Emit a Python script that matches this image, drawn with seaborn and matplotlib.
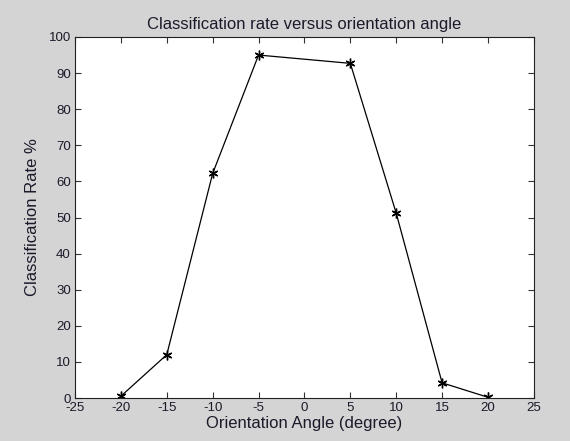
import matplotlib
matplotlib.use("Agg")
import matplotlib.pyplot as plt
import seaborn as sns
import pandas as pd

angles = [-20, -15, -10, -5, 5, 10, 15, 20]
rates = [0.5, 12, 62.2, 95, 92.7, 51.2, 4.2, 0.2]
xticks = [-25, -20, -15, -10, -5, 0, 5, 10, 15, 20, 25]
yticks = [0, 10, 20, 30, 40, 50, 60, 70, 80, 90, 100]

sns.set_style("white")
plt.rcParams['font.family'] = ['Liberation Sans', 'DejaVu Sans']

df = pd.DataFrame({"angle": angles, "rate": rates})

fig = plt.figure(figsize=(5.7, 4.41), dpi=100, facecolor='#d4d4d4')
ax = fig.add_axes([0.1316, 0.0975, 0.805, 0.8186])
ax.set_facecolor('white')
sns.lineplot(data=df, x="angle", y="rate", ax=ax, color='black', linewidth=0.9,
             marker=(6, 2, 0), markersize=7, markeredgecolor='black', markeredgewidth=1.0)

ax.set_xlim(-25, 25)
ax.set_ylim(0, 100)
ax.set_xticks(xticks)
ax.set_xticklabels([str(t) for t in xticks])
ax.set_yticks(yticks)
ax.set_yticklabels([str(t) for t in yticks])
ax.tick_params(direction='in', length=4, width=0.8, color='#333333', labelsize=9.5,
               labelcolor='#1a1a2a', top=True, right=True, bottom=True, left=True, pad=3)
for s in ax.spines.values():
    s.set_visible(True)
    s.set_color('#222222')
    s.set_linewidth(0.8)
ax.set_xlabel("Orientation Angle (degree)", fontsize=12, labelpad=1, color='#1a1a2a')
ax.set_ylabel("Classification Rate %", fontsize=12, labelpad=6, color='#1a1a2a')
ax.set_title("Classification rate versus orientation angle", fontsize=12, pad=6, color='#1a1a2a')

fig.savefig("out.png", dpi=100, facecolor=fig.get_facecolor())
